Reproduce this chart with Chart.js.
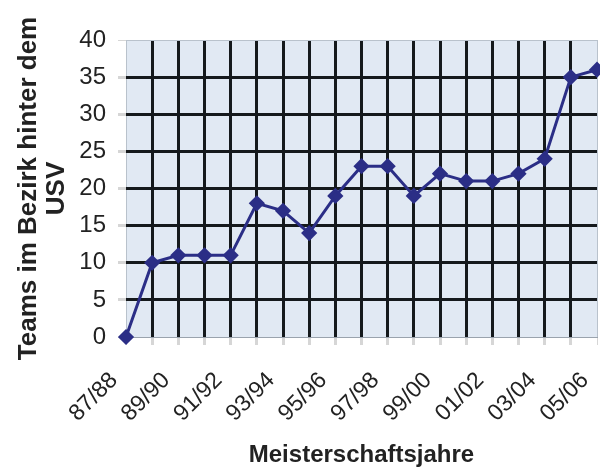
<!DOCTYPE html>
<html>
<head>
<meta charset="utf-8">
<title>Teams im Bezirk hinter dem USV</title>
<script src="https://cdn.jsdelivr.net/npm/chart.js@4"></script>
<style>
  body { margin: 0; background: #fff; }
  canvas { display: block; }
</style>
</head>
<body>
<canvas id="usv-chart" width="600" height="471"></canvas>
<script>
const seasons = ["87/88", "88/89", "89/90", "90/91", "91/92", "92/93", "93/94", "94/95", "95/96", "96/97",
  "97/98", "98/99", "99/00", "00/01", "01/02", "02/03", "03/04", "04/05", "05/06"];
const teamsBehind = [0, 10, 11, 11, 11, 18, 17, 14, 19, 23, 23, 19, 22, 21, 21, 22, 24, 35, 36];

const yTitle = ["Teams im Bezirk hinter dem", "USV"];
const xTitle = "Meisterschaftsjahre";

const ctx = document.querySelector("#usv-chart").getContext("2d");

// hellblaue Zeichenfläche wie im Excel-Diagramm
const plotBackground = {
  id: "plotBackground",
  beforeDraw(chart) {
    const { ctx, chartArea } = chart;
    ctx.save();
    ctx.fillStyle = "#e1e9f3";
    ctx.fillRect(chartArea.left, chartArea.top, chartArea.width, chartArea.height);
    ctx.restore();
  },
};

const myChart = new Chart(ctx, {
  type: "line",
  data: {
    labels: seasons,
    datasets: [
      {
        data: teamsBehind,
        borderColor: "#2b2e86",
        backgroundColor: "#2b2e86",
        borderWidth: 3,
        pointStyle: "rectRot",
        pointRadius: 6,
        pointHoverRadius: 6,
        tension: 0,
        clip: false,
      },
    ],
  },
  options: {
    responsive: false,
    animation: false,
    layout: { autoPadding: false, padding: { top: 40, right: 3, left: 0, bottom: 0 } },
    plugins: {
      legend: { display: false },
      tooltip: { enabled: false },
    },
    scales: {
      x: {
        offset: false,
        afterFit(scale) {
          // feste Höhe, keine Extra-Ränder für die schrägen Beschriftungen
          scale.height = 134;
          scale.paddingLeft = 0;
          scale.paddingRight = 0;
        },
        grid: {
          color: (c) => (c.index === 0 || c.index === seasons.length - 1 ? "#b9c2cc" : "#15191c"),
          lineWidth: (c) => (c.index === 0 || c.index === seasons.length - 1 ? 1 : 3),
          tickColor: "#d6d6d6",
          tickLength: 8,
        },
        border: { display: true, color: "#9aa3ad", width: 1 },
        ticks: {
          autoSkip: false,
          maxRotation: 45,
          minRotation: 45,
          padding: 22,
          labelOffset: -12,
          color: "#222",
          font: { family: "Liberation Sans", size: 23 },
          callback: function (value, index) {
            return index % 2 === 0 ? this.getLabelForValue(value) : "";
          },
        },
        title: {
          display: true,
          text: xTitle,
          color: "#222",
          padding: { top: 0, bottom: 1 },
          font: { family: "Liberation Sans", size: 24, weight: "bold" },
        },
      },
      y: {
        min: 0,
        max: 40,
        afterFit(scale) {
          scale.width = 126;
          scale.paddingTop = 0;
          scale.paddingBottom = 0;
        },
        grid: {
          color: (c) => (c.tick.value === 0 || c.tick.value === 40 ? "#b9c2cc" : "#15191c"),
          lineWidth: (c) => (c.tick.value === 0 || c.tick.value === 40 ? 1 : 3),
          tickColor: "#d6d6d6",
          tickLength: 8,
        },
        border: { display: false },
        ticks: {
          stepSize: 5,
          padding: 12,
          color: "#222",
          font: { family: "Liberation Sans", size: 24 },
        },
        title: {
          display: true,
          text: yTitle,
          color: "#222",
          padding: { top: 15, bottom: 0 },
          font: { family: "Liberation Sans", size: 26, weight: "bold", lineHeight: 1.08 },
        },
      },
    },
  },
  plugins: [plotBackground],
});
</script>
</body>
</html>
